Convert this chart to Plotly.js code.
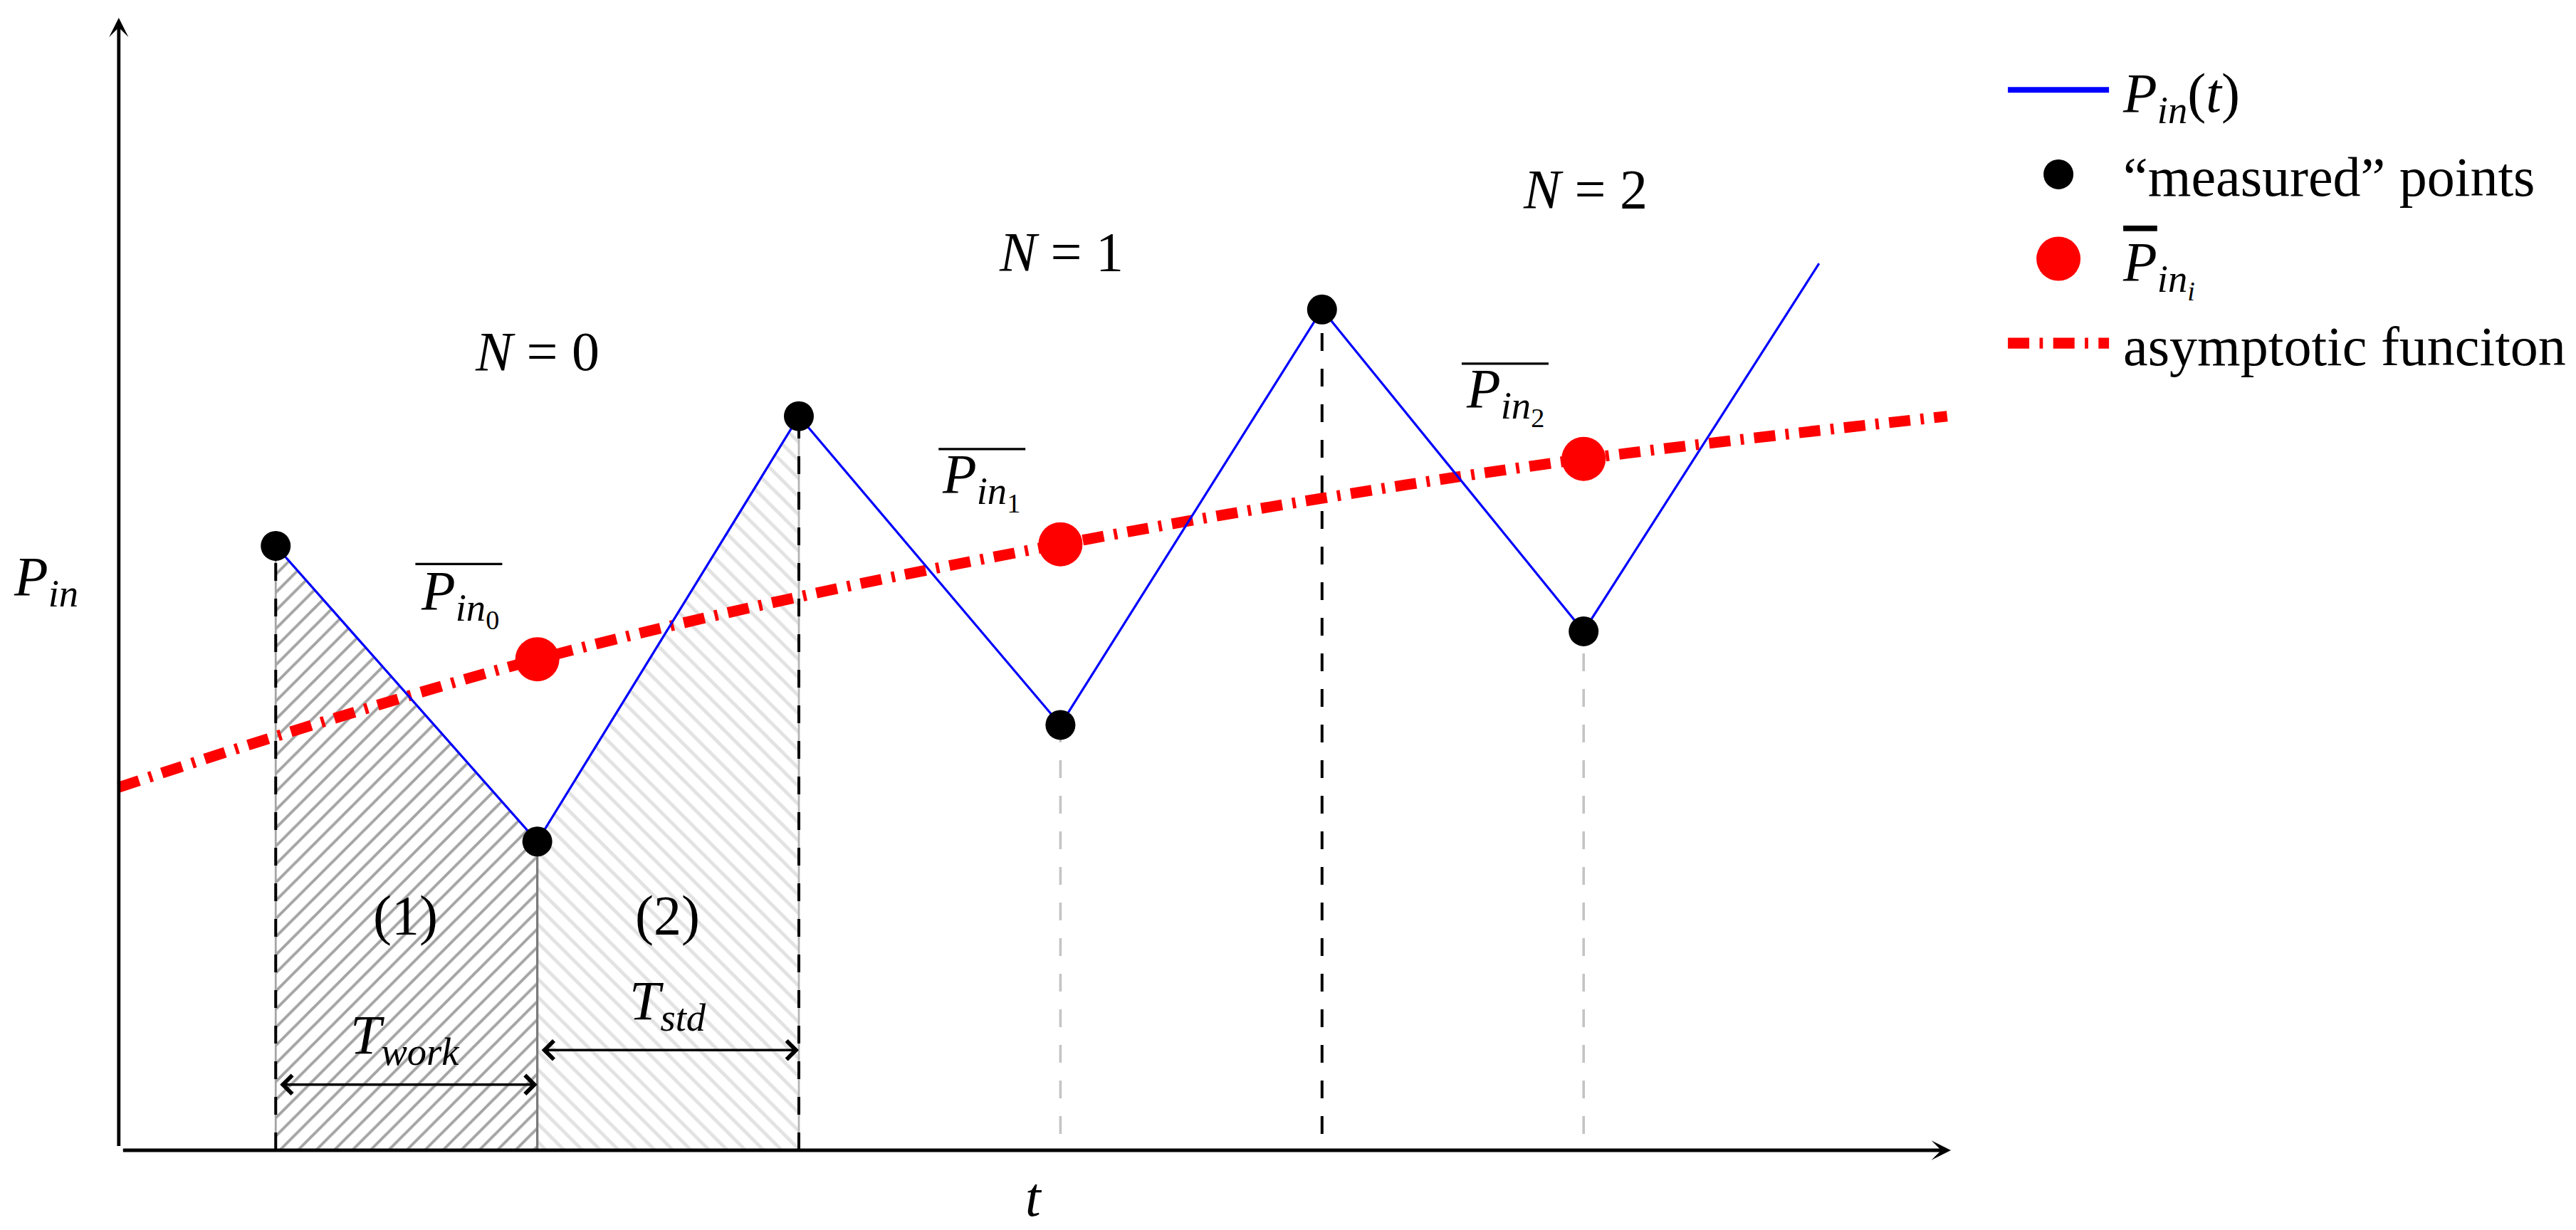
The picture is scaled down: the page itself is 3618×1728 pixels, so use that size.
<!DOCTYPE html>
<html>
<head>
<meta charset="utf-8">
<script src="https://cdn.plot.ly/plotly-3.0.1.min.js"></script>
<style>
  html { margin: 0; padding: 0; overflow: hidden; background: #fff; }
  body { margin: 0; padding: 0; width: 3618px; height: 1728px; background: #fff; }
  /* drawn at 1/4 size and scaled up so the legend symbols keep their proportions */
  #chart { width: 905px; height: 432px; transform: scale(4); transform-origin: 0 0; }
</style>
</head>
<body>
<div id="chart"></div>
<script>
// measured points of the input power (one per half cycle)
const tMeasured = [0, 1, 2, 3, 4, 5];
const pMeasured = [3.68, 1.88, 4.47, 2.59, 5.12, 3.16];
// the input power line keeps going after the last point
const tLineEnd = 5.9;
const pLineEnd = 5.40;

// mean input power per cycle
const tAvg = [1, 3, 5];
const pAvg = [2.99, 3.69, 4.21];
const cycles = [0, 1, 2];

// asymptotic function
const tAsym = [-0.6, 0, 1, 2, 3, 4, 5, 6.39];
const pAsym = [2.21, 2.52, 2.99, 3.37, 3.69, 3.97, 4.21, 4.47];

const regionLabels = ['(1)', '(2)'];
const periodLabels = ['<i>T<sub>work</sub></i>', '<i>T<sub>std</sub></i>'];

const serif = '"Liberation Serif", "DejaVu Serif", serif';
const fontSize = 19.5;

let traces = [];

// hatched areas (1) and (2)
const hatch = [
    { shape: '/', fg: '#a4a4a4', line: '#a4a4a4', solidity: 0.22 },
    { shape: '\\', fg: '#e2e2e2', line: '#b4b4b4', solidity: 0.26 }
];
for (let k = 0; k < 2; k++) {
    traces.push({
        type: 'scatter', mode: 'lines', showlegend: false, hoverinfo: 'skip',
        x: [tMeasured[k], tMeasured[k], tMeasured[k + 1], tMeasured[k + 1]],
        y: [0, pMeasured[k], pMeasured[k + 1], 0],
        fill: 'toself', fillcolor: 'white',
        fillpattern: { shape: hatch[k].shape, fgcolor: hatch[k].fg, bgcolor: 'white', size: 4.5, solidity: hatch[k].solidity },
        line: { color: hatch[k].line, width: 0.7 }
    });
}

// vertical drop lines under the measured points
for (let i = 0; i < tMeasured.length; i++) {
    let style;
    if (i === 1) style = { color: '#7a7a7a', width: 0.8, dash: 'solid' };
    else if (i % 2 === 0) style = { color: 'black', width: 1, dash: '6.25px,6.25px' };
    else style = { color: '#c4c4c4', width: 0.9, dash: '6.25px,6.25px' };
    traces.push({
        type: 'scatter', mode: 'lines', showlegend: false, hoverinfo: 'skip',
        x: [tMeasured[i], tMeasured[i]],
        y: [i <= 2 ? 0 : 0.1, pMeasured[i]],
        line: style
    });
}

// asymptotic function
traces.push({
    type: 'scatter', mode: 'lines', name: 'asymptotic funciton', legendrank: 4, legendgroup: 'g4',
    x: tAsym, y: pAsym,
    line: { color: 'red', width: 3.8, dash: '7.5px,3.6px,1.2px,3.6px', shape: 'spline' }
});

// input power
traces.push({
    type: 'scatter', mode: 'lines', showlegend: false, legendgroup: 'g1',
    x: tMeasured.concat([tLineEnd]), y: pMeasured.concat([pLineEnd]),
    line: { color: 'blue', width: 0.8 }
});
// legend entry for the input power (thicker key, as in the original legend)
traces.push({
    type: 'scatter', mode: 'lines', name: '<i>P<sub>in</sub></i>(<i>t</i>)', legendrank: 1, legendgroup: 'g1',
    x: [null], y: [null],
    line: { color: 'blue', width: 2 }
});

traces.push({
    type: 'scatter', mode: 'markers', name: '“measured” points', legendrank: 2, legendgroup: 'g2',
    x: tMeasured, y: pMeasured,
    marker: { color: 'black', size: 10.5 }
});

traces.push({
    type: 'scatter', mode: 'markers', legendrank: 3, legendgroup: 'g3',
    name: '<span style="text-decoration:overline"><i>P</i></span><sub><i>in<sub>i</sub></i></sub>',
    x: tAvg, y: pAvg,
    marker: { color: 'red', size: 15.5 }
});

let annotations = [];
let shapes = [];
const txt = (extra) => Object.assign({ showarrow: false, font: { family: serif, size: fontSize, color: 'black' } }, extra);

// axes with arrow heads
annotations.push({ x: 6.404, y: 0, ax: -0.6, ay: 0, xref: 'x', yref: 'y', axref: 'x', ayref: 'y',
    text: '', showarrow: true, arrowhead: 3, arrowwidth: 1.2, arrowsize: 0.95, arrowcolor: 'black', standoff: 0 });
annotations.push({ x: -0.6, y: 6.896, ax: -0.6, ay: 0, xref: 'x', yref: 'y', axref: 'x', ayref: 'y',
    text: '', showarrow: true, arrowhead: 3, arrowwidth: 1.2, arrowsize: 0.95, arrowcolor: 'black', standoff: 0 });

annotations.push(txt({ text: '<i>P<sub>in</sub></i>', xref: 'x', yref: 'y', x: -0.6, y: 3.47, xanchor: 'right', xshift: -12 }));
annotations.push(txt({ text: '<i>t</i>', xref: 'paper', yref: 'paper', x: 0.5, y: 0, yshift: -16, yanchor: 'middle' }));

// cycle labels and mean labels
const nLabelY = [4.87, 5.47, 5.86];
for (let j = 0; j < cycles.length; j++) {
    annotations.push(txt({ text: '<i>N</i> = ' + cycles[j], xref: 'x', yref: 'y', x: tAvg[j], y: nLabelY[j] }));
    annotations.push(txt({ text: '<i>P</i><sub><i>in</i><sub>' + cycles[j] + '</sub></sub>', xref: 'x', yref: 'y',
        x: tAvg[j] - 0.3, y: pAvg[j] + 0.38 }));
    shapes.push({ type: 'line', xref: 'x', yref: 'y',
        x0: tAvg[j] - 0.466, x1: tAvg[j] - 0.134, y0: pAvg[j] + 0.58, y1: pAvg[j] + 0.58,
        line: { color: 'black', width: 0.85 } });
}

// regions and their durations
const labelY = [1.43, 1.43];
const periodY = [0.68, 0.89];
const arrowY = [0.40, 0.61];
for (let k = 0; k < 2; k++) {
    const mid = (tMeasured[k] + tMeasured[k + 1]) / 2;
    annotations.push(txt({ text: regionLabels[k], xref: 'x', yref: 'y', x: mid, y: labelY[k] }));
    annotations.push(txt({ text: periodLabels[k], xref: 'x', yref: 'y', x: mid, y: periodY[k] }));
    annotations.push({ x: tMeasured[k + 1], y: arrowY[k], ax: tMeasured[k], ay: arrowY[k],
        xref: 'x', yref: 'y', axref: 'x', ayref: 'y', text: '', showarrow: true,
        arrowside: 'end+start', arrowhead: 4, startarrowhead: 4, arrowsize: 1.5, startarrowsize: 1.5,
        arrowwidth: 0.85, arrowcolor: 'black', standoff: 0, startstandoff: 0 });
}

const layout = {
    width: 905, height: 432,
    margin: { l: 40, r: 220, t: 4, b: 28, autoexpand: false },
    paper_bgcolor: 'white', plot_bgcolor: 'white',
    xaxis: { range: [-0.6185, 6.404], visible: false, fixedrange: true },
    yaxis: { range: [0, 6.935], visible: false, fixedrange: true },
    showlegend: true,
    legend: {
        x: 1.0233, y: 0.979, xanchor: 'left', yanchor: 'top',
        font: { family: serif, size: fontSize, color: 'black' },
        itemwidth: 35.5, tracegroupgap: 1.3, bgcolor: 'rgba(0,0,0,0)', borderwidth: 0
    },
    annotations: annotations,
    shapes: shapes
};

Plotly.newPlot('chart', traces, layout, { staticPlot: true, displayModeBar: false });
</script>
</body>
</html>
